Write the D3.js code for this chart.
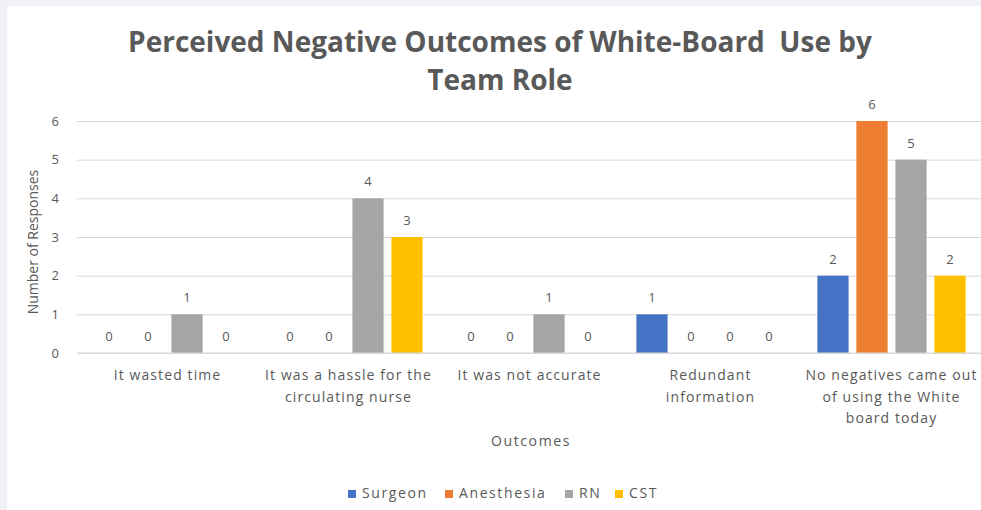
<!DOCTYPE html>
<html>
<head>
<meta charset="utf-8">
<script src="https://cdn.jsdelivr.net/npm/d3@7"></script>
<style>
  html, body { margin: 0; padding: 0; background: #eff1f7; }
  svg { display: block; }
  text { white-space: pre; }
</style>
</head>
<body>
<svg id="chart" width="981" height="510"></svg>
<script>
const categories = [
  ["It wasted time"],
  ["It was a hassle for the", "circulating nurse"],
  ["It was not accurate"],
  ["Redundant", "information"],
  ["No negatives came out", "of using the White", "board today"]
];
const seriesNames = ["Surgeon", "Anesthesia", "RN", "CST"];
const seriesColors = ["#4472C4", "#ED7D31", "#A5A5A5", "#FFC000"];
const surgeon    = [0, 0, 0, 1, 2];
const anesthesia = [0, 0, 0, 0, 6];
const rn         = [1, 4, 1, 0, 5];
const cst        = [0, 3, 0, 0, 2];
const yTicks = [0, 1, 2, 3, 4, 5, 6];
const titleLines = ["Perceived Negative Outcomes of White-Board  Use by", "Team Role"];

(function() {
const values = [surgeon, anesthesia, rn, cst];
const svg = d3.select("#chart");
const textColor = "#595959";
const font = "'Open Sans', sans-serif";

// white panel
svg.append("rect").attr("x", 7).attr("y", 6).attr("width", 974).attr("height", 504).attr("fill", "#ffffff");

const pLeft = 77, pRight = 982, pTop = 121, pBottom = 353;
const x0 = d3.scaleBand().domain(d3.range(categories.length)).range([pLeft, pRight]).padding(0);
const x1 = d3.scaleBand().domain(d3.range(seriesNames.length)).range([0, x0.bandwidth()])
  .paddingInner(0.2).paddingOuter(0.42);
const y = d3.scaleLinear().domain([0, 6]).range([pBottom, pTop]);

// gridlines
const yAxis = d3.axisLeft(y).tickValues(yTicks).tickFormat(d3.format("d"))
  .tickSize(-(pRight - pLeft)).tickPadding(18);
const gy = svg.append("g").attr("transform", `translate(${pLeft},0)`).call(yAxis);
gy.select(".domain").remove();
gy.selectAll(".tick line").attr("stroke", "#d9d9d9").attr("stroke-width", 1);
gy.selectAll(".tick text").attr("fill", textColor).style("font-family", font).style("font-size", "13px");

// bars
const groups = svg.append("g").selectAll("g").data(categories).join("g")
  .attr("transform", (d, i) => `translate(${x0(i)},0)`);
groups.each(function(_, ci) {
  const g = d3.select(this);
  seriesNames.forEach((s, si) => {
    const v = values[si][ci];
    if (v > 0) {
      g.append("rect")
        .attr("x", x1(si)).attr("width", x1.bandwidth())
        .attr("y", y(v)).attr("height", y(0) - y(v))
        .attr("fill", seriesColors[si]);
    }
    g.append("text")
      .attr("x", x1(si) + x1.bandwidth() / 2)
      .attr("y", y(v) - 12)
      .attr("text-anchor", "middle")
      .attr("fill", textColor)
      .style("font-family", font).style("font-size", "13px")
      .text(v);
  });
});

// baseline
svg.append("line").attr("x1", pLeft).attr("x2", pRight).attr("y1", y(0)).attr("y2", y(0))
  .attr("stroke", "#d9d9d9");

// category labels
const catG = svg.append("g");
categories.forEach((lines, i) => {
  const cx = x0(i) + x0.bandwidth() / 2;
  const t = catG.append("text")
    .attr("x", cx).attr("y", 380)
    .attr("text-anchor", "middle")
    .attr("fill", textColor)
    .style("font-family", font).style("font-size", "14px").style("letter-spacing", "1.1px");
  lines.forEach((ln, k) => {
    t.append("tspan").attr("x", cx).attr("dy", k === 0 ? 0 : 21.5).text(ln);
  });
});

// axis titles
svg.append("text").attr("x", 531).attr("y", 446).attr("text-anchor", "middle")
  .attr("fill", textColor).style("font-family", font).style("font-size", "14px")
  .style("letter-spacing", "1.6px").text("Outcomes");
svg.append("text").attr("transform", "translate(38,242) rotate(-90)").attr("text-anchor", "middle")
  .attr("fill", textColor).style("font-family", font).style("font-size", "14px").text("Number of Responses");

// title
titleLines.forEach((ln, k) => {
  svg.append("text").attr("x", 500).attr("y", 52 + k * 38).attr("text-anchor", "middle")
    .attr("fill", textColor).style("font-family", font).style("font-size", "28px").style("font-weight", "bold")
    .text(ln);
});

// legend
const legendX = [348, 445, 565, 615];
seriesNames.forEach((s, i) => {
  svg.append("rect").attr("x", legendX[i]).attr("y", 490).attr("width", 8).attr("height", 8).attr("fill", seriesColors[i]);
  svg.append("text").attr("x", legendX[i] + 14).attr("y", 498)
    .attr("fill", textColor).style("font-family", font).style("font-size", "14px")
    .style("letter-spacing", "1.6px").text(s);
});
})();
</script>
</body>
</html>
